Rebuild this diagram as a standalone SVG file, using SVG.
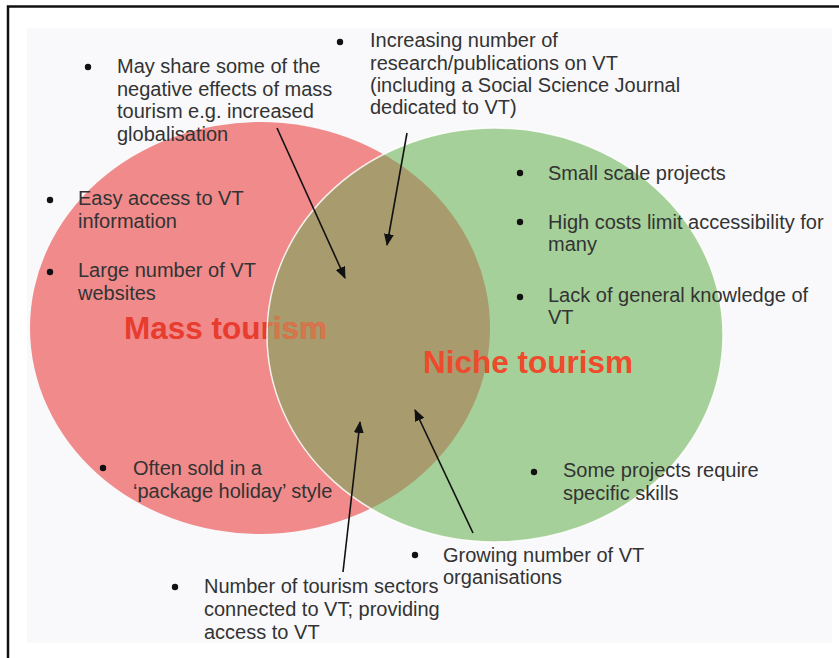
<svg xmlns="http://www.w3.org/2000/svg" width="839" height="658" viewBox="0 0 839 658">
<style>
.t{font-family:"Liberation Sans",Arial,sans-serif;font-size:20px;fill:#333;}
.h{font-family:"Liberation Sans",Arial,sans-serif;font-size:31.5px;font-weight:bold;}
.b{fill:#111;}
.c{stroke:#111;stroke-width:1.6;fill:none;marker-end:url(#ah);}
</style>
<defs>
<marker id="ah" viewBox="0 0 12 10" refX="11" refY="5" markerWidth="12" markerHeight="10" markerUnits="userSpaceOnUse" orient="auto">
<path d="M0,0 L12,5 L0,10 z" fill="#111"/>
</marker>
<clipPath id="gclip"><ellipse cx="495" cy="335" rx="228" ry="207"/></clipPath>
</defs>
<rect x="0" y="0" width="839" height="658" fill="#fff"/>
<rect x="27" y="28" width="805" height="615" fill="#f9f9fb"/>
<path d="M8,658 V6.5 H839" fill="none" stroke="#111" stroke-width="2.5"/>

<g id="mass">
<ellipse cx="260" cy="328" rx="230" ry="206" fill="#f08a8b"/>
</g>
<g id="niche">
<ellipse cx="495" cy="335" rx="228" ry="207" fill="#a6d099"/>
</g>
<g id="overlap">
<ellipse cx="260" cy="328" rx="230" ry="206" fill="#a89b6e" clip-path="url(#gclip)"/>
</g>
<g id="mass-label">
<text class="h" x="124" y="339" fill="#e83c2e">Mass tourism</text>
<text class="h" x="124" y="339" fill="#d5764c" clip-path="url(#gclip)">Mass tourism</text>
</g>
<ellipse cx="495" cy="335" rx="228" ry="207" fill="none" stroke="#fff" stroke-width="1.5" opacity="0.85"/>
<g id="niche-label">
<text class="h" x="423" y="373" fill="#ee4a2c">Niche tourism</text>
</g>

<g id="n-negative">
<circle class="b" cx="88" cy="67" r="3.2"/>
<text class="t" x="117" y="73">May share some of the</text>
<text class="t" x="117" y="96">negative effects of mass</text>
<text class="t" x="117" y="118">tourism e.g. increased</text>
<text class="t" x="117" y="141">globalisation</text>
</g>
<g id="n-research">
<circle class="b" cx="340" cy="42" r="3.2"/>
<text class="t" x="370" y="47">Increasing number of</text>
<text class="t" x="370" y="70">research/publications on VT</text>
<text class="t" x="370" y="92">(including a Social Science Journal</text>
<text class="t" x="370" y="114">dedicated to VT)</text>
</g>
<g id="n-easy">
<circle class="b" cx="50" cy="200" r="3.2"/>
<text class="t" x="78" y="205">Easy access to VT</text>
<text class="t" x="78" y="228">information</text>
</g>
<g id="n-large">
<circle class="b" cx="50" cy="272" r="3.2"/>
<text class="t" x="78" y="277">Large number of VT</text>
<text class="t" x="78" y="300">websites</text>
</g>
<g id="n-small">
<circle class="b" cx="520" cy="173" r="3.2"/>
<text class="t" x="548" y="180">Small scale projects</text>
</g>
<g id="n-costs">
<circle class="b" cx="520" cy="222" r="3.2"/>
<text class="t" x="548" y="229">High costs limit accessibility for</text>
<text class="t" x="548" y="251">many</text>
</g>
<g id="n-lack">
<circle class="b" cx="520" cy="297" r="3.2"/>
<text class="t" x="548" y="302">Lack of general knowledge of</text>
<text class="t" x="548" y="324">VT</text>
</g>
<g id="n-often">
<circle class="b" cx="103" cy="468" r="3.2"/>
<text class="t" x="133" y="475">Often sold in a</text>
<text class="t" x="133" y="498">‘package holiday’ style</text>
</g>
<g id="n-skills">
<circle class="b" cx="534" cy="472" r="3.2"/>
<text class="t" x="563" y="477">Some projects require</text>
<text class="t" x="563" y="500">specific skills</text>
</g>
<g id="n-growing">
<circle class="b" cx="415" cy="555" r="3.2"/>
<text class="t" x="443" y="562">Growing number of VT</text>
<text class="t" x="443" y="584">organisations</text>
</g>
<g id="n-sectors">
<circle class="b" cx="175" cy="587" r="3.2"/>
<text class="t" x="204" y="593">Number of tourism sectors</text>
<text class="t" x="204" y="616">connected to VT; providing</text>
<text class="t" x="204" y="639">access to VT</text>
</g>

<g id="connectors">
<line class="c" x1="277" y1="128" x2="345" y2="278"/>
<line class="c" x1="407" y1="133" x2="387" y2="245"/>
<line class="c" x1="343" y1="572" x2="360" y2="422"/>
<line class="c" x1="473" y1="533" x2="415" y2="410"/>
</g>
</svg>
